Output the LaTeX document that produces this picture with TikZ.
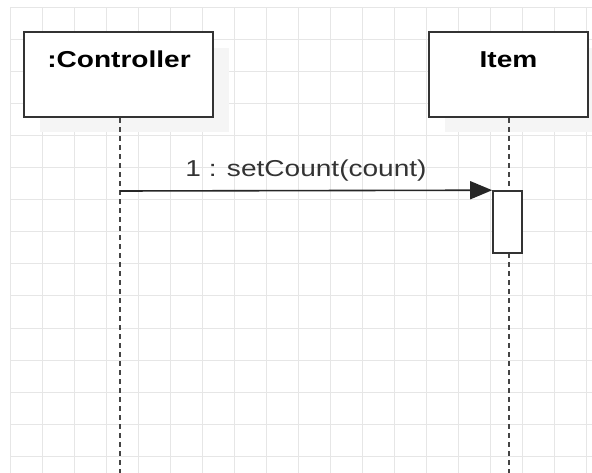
\documentclass[tikz,border=0pt]{standalone}
\usepackage{fontspec}
\usepackage{graphicx}
\setmainfont{Liberation Sans}
\usetikzlibrary{arrows.meta}
\definecolor{gridc}{HTML}{E6E6E6}
\definecolor{linec}{HTML}{333333}
\definecolor{lifec}{HTML}{444444}
\tikzset{
  objbox/.style={draw=linec, line width=2.2pt, fill=white},
  shadowbox/.style={fill=black!4},
  lifeline/.style={draw=lifec, line width=2.2pt, dash pattern=on 5pt off 4pt},
  msg/.style={draw=black!85, line width=1.6pt, -{Triangle[length=22pt,width=18pt]}},
  objtext/.style={font=\bfseries\fontsize{23}{25}\selectfont, inner sep=0pt, anchor=base},
  msgtext/.style={font=\fontsize{23}{25}\selectfont, text=black!80, inner sep=0pt, anchor=base}
}
\begin{document}
\begin{tikzpicture}[x=1pt,y=-1pt]
\useasboundingbox (0,0) rectangle (592,473);
\fill[white] (0,0) rectangle (592,473);
% grid
\foreach \gx in {10,42,...,592} \draw[gridc, line width=1pt] (\gx,8) -- (\gx,473);
\foreach \gy in {8,40,...,473} \draw[gridc, line width=1pt] (10,\gy) -- (592,\gy);
% shadows
\fill[shadowbox] (40,48) rectangle (229,132);
\fill[shadowbox] (445,48) rectangle (592,132);
% lifelines
\coordinate (cend) at (120,473);
\coordinate (iend) at (509,473);
\node[objbox, minimum width=189pt, minimum height=85pt, inner sep=0pt] (ctrl) at (118.5,74.5) {};
\node[objbox, minimum width=159pt, minimum height=85pt, inner sep=0pt] (item) at (508.5,74.5) {};
\draw[lifeline] (ctrl.south -| cend) -- (cend);
\draw[lifeline] (item.south -| iend) -- (iend);
\node[draw=linec, line width=1.6pt, fill=white, minimum width=29pt, minimum height=62pt, inner sep=0pt] (act) at (507.5,222) {};
\node[objtext] (ctxt) at (119,68) {\scalebox{1.22}[1]{:Controller}};
\node[objtext] (itxt) at (508.5,68) {\scalebox{1.22}[1]{Item}};
\coordinate (src) at (120,191);
\draw[msg] (src) -- (act.north west);
\node[msgtext] (mlbl) at (306,177) {\scalebox{1.22}[1]{1 : setCount(count)}};
\end{tikzpicture}
\end{document}
